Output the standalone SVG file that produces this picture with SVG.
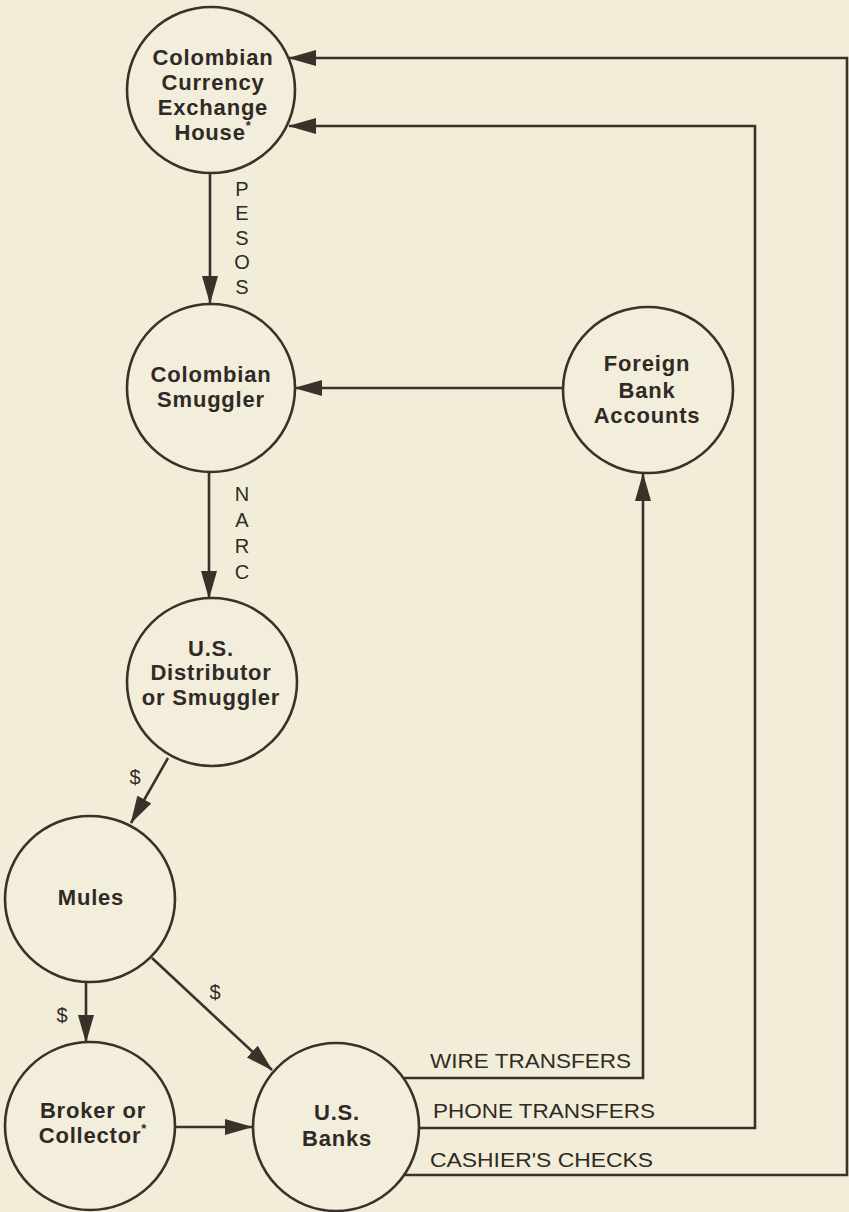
<svg xmlns="http://www.w3.org/2000/svg" width="849" height="1212" viewBox="0 0 849 1212">
<defs>
<style>
.node{fill:#f3eedb;stroke:#3b302a;stroke-width:2.6}
.lbl{font-family:"Liberation Sans",Arial,sans-serif;font-weight:bold;font-size:22px;letter-spacing:0.8px;fill:#2f2a26;text-anchor:middle}
.sm{font-family:"Liberation Sans",Arial,sans-serif;font-size:20px;fill:#2f2a26;text-anchor:middle}
.cap{font-family:"Liberation Sans",Arial,sans-serif;font-size:20px;fill:#2f2a26}
.ast{font-size:13px}
.conn{fill:none;stroke:#3b302a;stroke-width:2.6;stroke-linejoin:miter}
.arr{marker-end:url(#ah)}
</style>
<marker id="ah" markerUnits="userSpaceOnUse" markerWidth="28" markerHeight="16" refX="27" refY="8" orient="auto">
<path d="M0,0 L28,8 L0,16 z" fill="#3b302a"/>
</marker>
</defs>
<rect width="849" height="1212" fill="#f2edd9"/>
<g id="connectors">
<path class="conn arr" d="M210,172 V303"/>
<path class="conn arr" d="M209,472 V598"/>
<path class="conn arr" d="M563,388 H295"/>
<path class="conn arr" d="M168,758 L131,823"/>
<path class="conn arr" d="M86,982 V1042"/>
<path class="conn arr" d="M152,958 L272,1070"/>
<path class="conn arr" d="M176,1127 H252"/>
<path class="conn arr" d="M404,1078 H643 V474"/>
<path class="conn arr" d="M420,1128 H755 V126 H289"/>
<path class="conn arr" d="M405,1175 H847 V58 H289"/>
<g id="connector-labels">
<text class="sm" x="242" y="196">P</text>
<text class="sm" x="242" y="220">E</text>
<text class="sm" x="242" y="245">S</text>
<text class="sm" x="242" y="269">O</text>
<text class="sm" x="242" y="294">S</text>
<text class="sm" x="242" y="501">N</text>
<text class="sm" x="242" y="527">A</text>
<text class="sm" x="242" y="553">R</text>
<text class="sm" x="242" y="579">C</text>
<text class="sm" x="135" y="784">$</text>
<text class="sm" x="62" y="1022">$</text>
<text class="sm" x="215" y="999">$</text>
<text class="cap" x="430" y="1068" textLength="201" lengthAdjust="spacingAndGlyphs">WIRE TRANSFERS</text>
<text class="cap" x="433" y="1118" textLength="222" lengthAdjust="spacingAndGlyphs">PHONE TRANSFERS</text>
<text class="cap" x="430" y="1167" textLength="223" lengthAdjust="spacingAndGlyphs">CASHIER'S CHECKS</text>
</g>
</g>
<g id="exchange-house">
<ellipse class="node" cx="211" cy="90" rx="84" ry="83"/>
<text class="lbl" x="213" y="65">Colombian</text>
<text class="lbl" x="213" y="90">Currency</text>
<text class="lbl" x="213" y="115">Exchange</text>
<text class="lbl" x="213" y="140">House<tspan class="ast" dy="-10">*</tspan></text>
</g>
<g id="colombian-smuggler">
<ellipse class="node" cx="211" cy="388" rx="84" ry="84"/>
<text class="lbl" x="211" y="382">Colombian</text>
<text class="lbl" x="211" y="407">Smuggler</text>
</g>
<g id="foreign-bank">
<ellipse class="node" cx="648" cy="390" rx="85" ry="83"/>
<text class="lbl" x="647" y="371">Foreign</text>
<text class="lbl" x="647" y="398">Bank</text>
<text class="lbl" x="647" y="423">Accounts</text>
</g>
<g id="us-distributor">
<ellipse class="node" cx="212" cy="682" rx="85" ry="84"/>
<text class="lbl" x="211" y="656">U.S.</text>
<text class="lbl" x="211" y="680">Distributor</text>
<text class="lbl" x="211" y="705">or Smuggler</text>
</g>
<g id="mules">
<ellipse class="node" cx="90" cy="899" rx="85" ry="83"/>
<text class="lbl" x="91" y="905">Mules</text>
</g>
<g id="broker">
<ellipse class="node" cx="90" cy="1126" rx="85" ry="84"/>
<text class="lbl" x="93" y="1118">Broker or</text>
<text class="lbl" x="93" y="1143">Collector<tspan class="ast" dy="-10">*</tspan></text>
</g>
<g id="us-banks">
<ellipse class="node" cx="336" cy="1127" rx="83" ry="84"/>
<text class="lbl" x="337" y="1120">U.S.</text>
<text class="lbl" x="337" y="1146">Banks</text>
</g>
</svg>
